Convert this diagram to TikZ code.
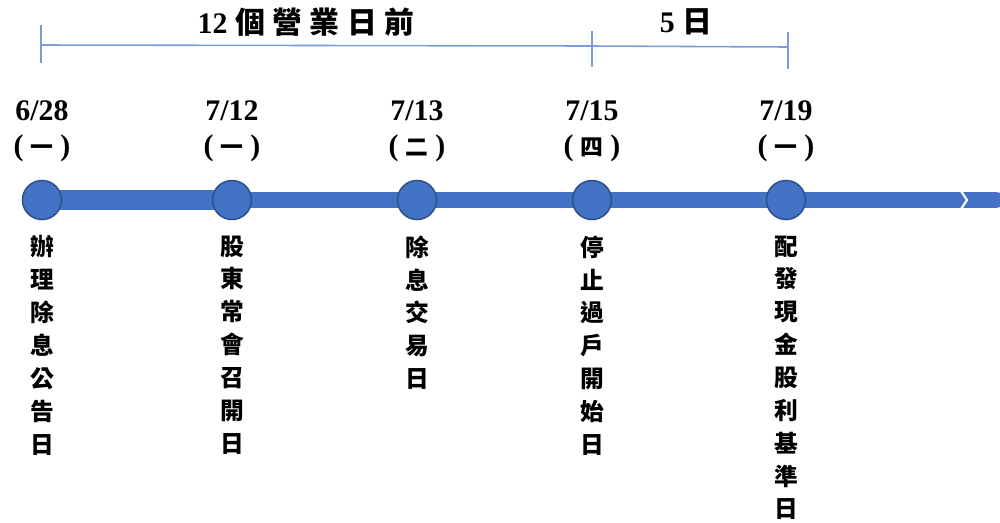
\documentclass[tikz,border=0pt]{standalone}
\usepackage{fontspec}
\setmainfont{Liberation Serif}
\newfontfamily\cjk{Noto Sans CJK TC}
\newfontfamily\cjkwide{Noto Sans CJK TC}[LetterSpace=25]
\usetikzlibrary{positioning}
\definecolor{barblue}{HTML}{4472C4}
\definecolor{rimblue}{HTML}{2F528F}
\definecolor{spanblue}{HTML}{7C9CD8}
\newcommand{\wkday}[1]{(\hspace{4pt}{\cjk\fontsize{13}{19.5}\selectfont #1}\hspace{4pt})}

\begin{document}
\begin{tikzpicture}[x=0.02cm,y=-0.02cm,
dot/.style={circle, fill=barblue, draw=rimblue, line width=0.9pt, minimum size=0.78cm, inner sep=0pt},
datelbl/.style={align=center, inner sep=0pt, font=\bfseries\fontsize{17}{19.5}\selectfont},
eventlbl/.style={align=center, inner sep=0pt, font=\cjk\bfseries\fontsize{13.5}{18.7}\selectfont},
spanlbl/.style={inner sep=0pt, font=\bfseries\fontsize{17}{17}\selectfont},
span/.style={spanblue, line width=0.9pt},
]
\useasboundingbox (0,0) rectangle (1000,522);

\coordinate (t1) at (42,200);
\coordinate (t2) at (232,200);
\coordinate (t3) at (417,200);
\coordinate (t4) at (592,200);
\coordinate (t5) at (786,200);
\coordinate (tend) at (996,200);

% timeline bar
\draw[barblue, line width=11.3pt] (t1) -- (t2);
\draw[barblue, line width=9pt, line cap=round] (t2) -- (tend);
\draw[white, line width=1.2pt] (961,191) -- (967,200) -- (961,209);

\node[dot] (d1) at (t1) {};
\node[dot] (d2) at (t2) {};
\node[dot] (d3) at (t3) {};
\node[dot] (d4) at (t4) {};
\node[dot] (d5) at (t5) {};

% dates
\node[datelbl, above=0.36cm of d1] (date1) {6/28\\\wkday{一}};
\node[datelbl, above=0.36cm of d2] (date2) {7/12\\\wkday{一}};
\node[datelbl, above=0.36cm of d3] (date3) {7/13\\\wkday{二}};
\node[datelbl, above=0.36cm of d4] (date4) {7/15\\\wkday{四}};
\node[datelbl, above=0.36cm of d5] (date5) {7/19\\\wkday{一}};

% events
\node[eventlbl, below=0.3cm of d1] (ev1) {辦\\理\\除\\息\\公\\告\\日};
\node[eventlbl, below=0.3cm of d2] (ev2) {股\\東\\常\\會\\召\\開\\日};
\node[eventlbl, below=0.3cm of d3] (ev3) {除\\息\\交\\易\\日};
\node[eventlbl, below=0.3cm of d4] (ev4) {停\\止\\過\\戶\\開\\始\\日};
\node[eventlbl, below=0.3cm of d5] (ev5) {配\\發\\現\\金\\股\\利\\基\\準\\日};

% spans
\coordinate (s1) at (41,45);
\coordinate (s2) at (592,46);
\coordinate (s3) at (788,47);
\draw[span] (s1) -- (s2) -- (s3);
\draw[span] ([yshift=0.4cm]s1) -- ([yshift=-0.36cm]s1);
\draw[span] ([yshift=0.3cm]s2) -- ([yshift=-0.42cm]s2);
\draw[span] ([yshift=0.3cm]s3) -- ([yshift=-0.44cm]s3);
\node[spanlbl] (gap1) at (306,22) {12 {\cjkwide 個營業日前}};
\node[spanlbl] (gap2) at (686,22) {5 {\cjk 日}};

\end{tikzpicture}
\end{document}
